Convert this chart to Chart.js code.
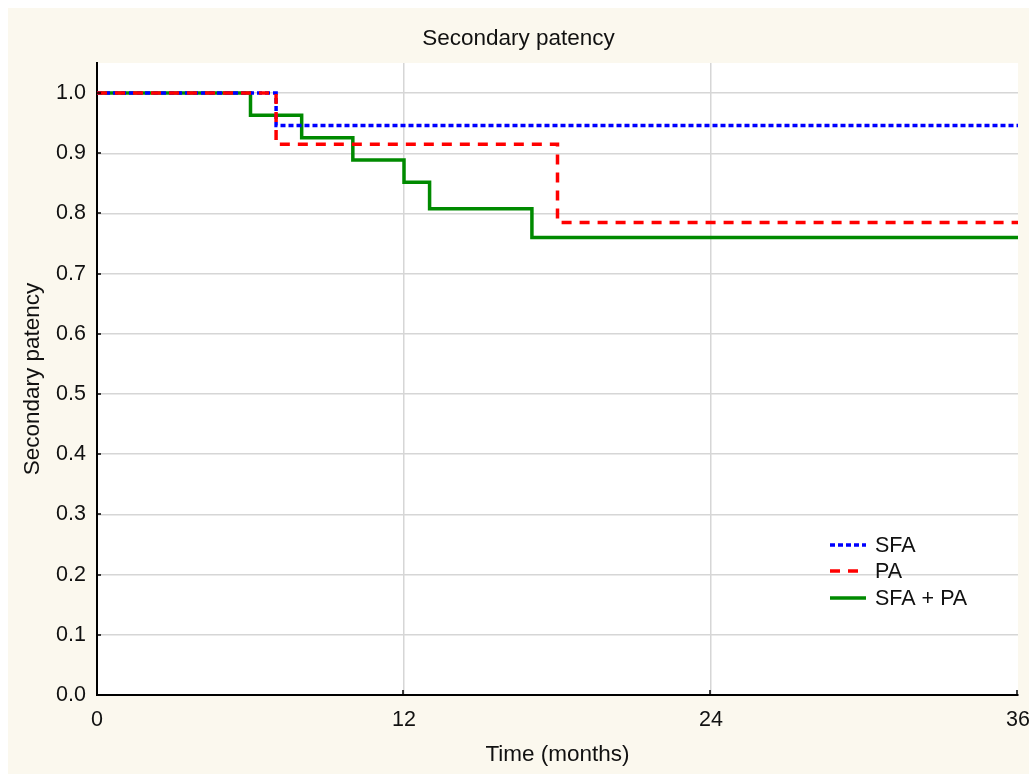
<!DOCTYPE html>
<html>
<head>
<meta charset="utf-8">
<title>Secondary patency</title>
<script src="https://cdn.jsdelivr.net/npm/chart.js@4"></script>
<style>
  html, body { margin: 0; padding: 0; background: #fff; overflow: hidden; }
  #wrap { position: absolute; left: 8px; top: 8px; width: 1021px; height: 766px; }
</style>
</head>
<body>
<div id="wrap"><canvas id="kmChart"></canvas></div>
<script>
// Kaplan-Meier steps (months, survival)
const sfaMonths = [0, 7, 36];
const sfaValues = [1.0, 0.946, 0.946];

const paMonths = [0, 7, 18, 36];
const paValues = [1.0, 0.915, 0.785, 0.785];

const bothMonths = [0, 6, 8, 10, 12, 13, 17, 36];
const bothValues = [1.0, 0.963, 0.926, 0.889, 0.852, 0.808, 0.760, 0.760];

const xTicks = [0, 12, 24, 36];
const yTicks = [0, 0.1, 0.2, 0.3, 0.4, 0.5, 0.6, 0.7, 0.8, 0.9, 1.0];

const seriesNames = ['SFA', 'PA', 'SFA + PA'];

const FONT = 'Liberation Sans, Arial, sans-serif';

function toPoints(xs, ys) {
    return xs.map((x, i) => ({ x: x, y: ys[i] }));
}

// cream background + white plot area
const backdrop = {
    id: 'backdrop',
    beforeDraw(chart) {
        const { ctx, chartArea: a } = chart;
        ctx.save();
        ctx.fillStyle = '#fbf8ee';
        ctx.fillRect(0, 0, chart.width, chart.height);
        ctx.fillStyle = '#ffffff';
        ctx.fillRect(a.left, a.top, a.right - a.left, a.bottom - a.top);
        ctx.restore();
    }
};

// small inward tick marks + legend box inside the plot
const extras = {
    id: 'extras',
    afterDraw(chart) {
        const { ctx, chartArea: a, scales } = chart;
        ctx.save();
        ctx.strokeStyle = '#000';
        ctx.lineWidth = 1.5;
        xTicks.slice(1).forEach(v => {
            const px = Math.round(scales.x.getPixelForValue(v)) - 1;
            ctx.beginPath();
            ctx.moveTo(px, a.bottom);
            ctx.lineTo(px, a.bottom - 5);
            ctx.stroke();
        });
        yTicks.slice(1).forEach(v => {
            const py = Math.round(scales.y.getPixelForValue(v));
            ctx.beginPath();
            ctx.moveTo(a.left, py);
            ctx.lineTo(a.left + 4, py);
            ctx.stroke();
        });

        // legend
        const lx = a.left + 733;
        const rows = [a.top + 482, a.top + 508, a.top + 535];
        chart.data.datasets.forEach((ds, i) => {
            const y = rows[i];
            ctx.strokeStyle = ds.borderColor;
            ctx.lineWidth = 3.5;
            ctx.setLineDash(ds.borderDash || []);
            ctx.beginPath();
            ctx.moveTo(lx, y);
            ctx.lineTo(lx + 36, y);
            ctx.stroke();
            ctx.setLineDash([]);
            ctx.fillStyle = '#111';
            ctx.font = '21.5px ' + FONT;
            ctx.textBaseline = 'middle';
            ctx.textAlign = 'left';
            ctx.fillText(seriesNames[i], lx + 45, y + 1);
        });
        ctx.restore();
    }
};

new Chart(document.getElementById('kmChart'), {
    type: 'line',
    data: {
        datasets: [
            {
                label: seriesNames[0],
                data: toPoints(sfaMonths, sfaValues),
                borderColor: '#0000ff',
                borderWidth: 3.5,
                borderDash: [5, 3],
                stepped: true,
                pointRadius: 0,
                fill: false,
                order: 1
            },
            {
                label: seriesNames[1],
                data: toPoints(paMonths, paValues),
                borderColor: '#ff0000',
                borderWidth: 3.5,
                borderDash: [10, 8],
                stepped: true,
                pointRadius: 0,
                fill: false,
                order: 0
            },
            {
                label: seriesNames[2],
                data: toPoints(bothMonths, bothValues),
                borderColor: '#008a00',
                borderWidth: 3.5,
                stepped: true,
                pointRadius: 0,
                fill: false,
                order: 2
            }
        ]
    },
    options: {
        responsive: true,
        maintainAspectRatio: false,
        animation: false,
        layout: { padding: { left: 0, right: 0, top: 0, bottom: 0 } },
        plugins: {
            legend: { display: false },
            tooltip: { enabled: false },
            title: {
                display: true,
                text: 'Secondary patency',
                color: '#111',
                font: { family: FONT, size: 22.5, weight: 'normal' },
                padding: { top: 17, bottom: 11 }
            }
        },
        scales: {
            x: {
                type: 'linear',
                min: 0,
                max: 36,
                afterBuildTicks: s => { s.ticks = xTicks.map(v => ({ value: v })); },
                afterFit: s => { s.height = 79; s.paddingRight = 11; },
                ticks: {
                    color: '#111',
                    padding: 12,
                    font: { family: FONT, size: 21.5 },
                    maxRotation: 0
                },
                grid: {
                    drawTicks: false,
                    color: ctx => (ctx.tick && (ctx.tick.value === 12 || ctx.tick.value === 24)) ? '#d6d6d6' : 'rgba(0,0,0,0)',
                    lineWidth: 1.5
                },
                border: { display: true, color: '#000', width: 2 },
                title: {
                    display: true,
                    text: 'Time (months)',
                    color: '#111',
                    font: { family: FONT, size: 22.5 },
                    padding: { top: 0, bottom: 6 }
                }
            },
            y: {
                min: 0,
                max: 1.05,
                afterBuildTicks: s => { s.ticks = yTicks.map(v => ({ value: v })); },
                afterFit: s => { s.width = 89; },
                ticks: {
                    color: '#111',
                    padding: 11,
                    font: { family: FONT, size: 21.5 },
                    callback: v => Number(v).toFixed(1)
                },
                grid: {
                    drawTicks: false,
                    color: ctx => (ctx.tick && ctx.tick.value > 0) ? '#d6d6d6' : 'rgba(0,0,0,0)',
                    lineWidth: 1.5
                },
                border: { display: true, color: '#000', width: 2 },
                title: {
                    display: true,
                    text: 'Secondary patency',
                    color: '#111',
                    font: { family: FONT, size: 22.5 },
                    padding: { top: 11, bottom: 0 }
                }
            }
        }
    },
    plugins: [backdrop, extras]
});
</script>
</body>
</html>
